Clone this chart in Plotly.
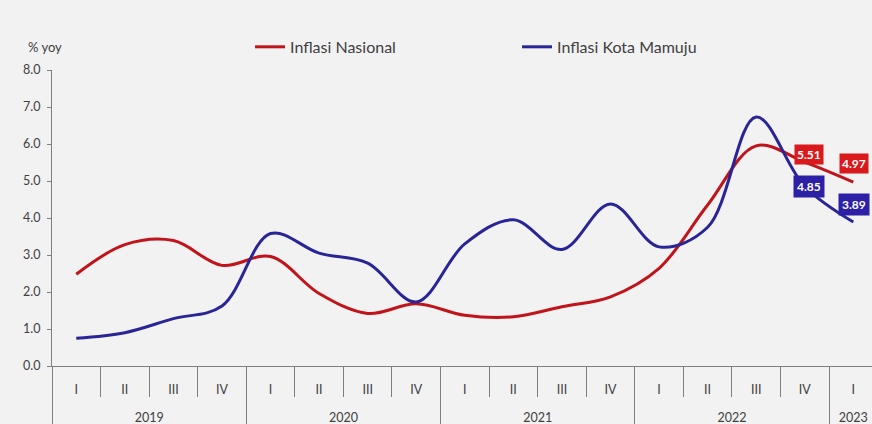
import plotly.graph_objects as go

years = ["2019"] * 4 + ["2020"] * 4 + ["2021"] * 4 + ["2022"] * 4 + ["2023"]
quarters = ["I", "II", "III", "IV"] * 4 + ["I"]
nasional = [2.48, 3.28, 3.39, 2.72, 2.96, 1.96, 1.42, 1.68, 1.37, 1.33, 1.60, 1.87,
            2.64, 4.35, 5.95, 5.51, 4.97]
mamuju = [0.75, 0.90, 1.28, 1.62, 3.58, 3.05, 2.78, 1.73, 3.30, 3.95, 3.15, 4.38,
          3.22, 3.75, 6.73, 4.85, 3.89]
y_ticks = [0, 1, 2, 3, 4, 5, 6, 7, 8]
label_idx = [15, 16]

# category positions derived from the data arrays
xpos = list(range(len(quarters)))
q_bounds = [i - 0.5 for i in range(len(quarters) + 1)]
year_names = []
year_centers = []
year_bounds = [-0.5]
for i, y in enumerate(years):
    if not year_names or year_names[-1] != y:
        year_names.append(y)
        idx = [j for j, yy in enumerate(years) if yy == y]
        year_centers.append(sum(idx) / len(idx))
        year_bounds.append(idx[-1] + 0.5)

RED = "#C0141A"
BLUE = "#2A2596"
RED_BOX = "#D9191C"
BLUE_BOX = "#2B20A6"
FONT = "Lato"
TXT = "#404040"
AX = "#7F7F7F"
XR = [-0.5, 16.385]

fig = go.Figure()
fig.add_trace(go.Scatter(x=xpos, y=nasional, name="Inflasi Nasional",
                         mode="lines", line=dict(color=RED, width=3, shape="spline", smoothing=1)))
fig.add_trace(go.Scatter(x=xpos, y=mamuju, name="Inflasi Kota Mamuju",
                         mode="lines", line=dict(color=BLUE, width=3, shape="spline", smoothing=1)))
# invisible companion trace so the year axis is drawn
fig.add_trace(go.Scatter(x=xpos, y=nasional, xaxis="x2", mode="lines", line=dict(width=0),
                         opacity=0, showlegend=False, hoverinfo="skip"))

shifts_n = [(4, 8), (1, 19)]
shifts_m = [(4, 0), (1, 18)]
for k, i in enumerate(label_idx):
    fig.add_annotation(x=xpos[i], y=nasional[i], xref="x", yref="y", text=f"<b>{nasional[i]:.2f}</b>",
                       showarrow=False, bgcolor=RED_BOX, font=dict(color="white", size=12, family=FONT),
                       xshift=shifts_n[k][0], yshift=shifts_n[k][1], borderpad=2)
    fig.add_annotation(x=xpos[i], y=mamuju[i], xref="x", yref="y", text=f"<b>{mamuju[i]:.2f}</b>",
                       showarrow=False, bgcolor=BLUE_BOX, font=dict(color="white", size=12, family=FONT),
                       xshift=shifts_m[k][0], yshift=shifts_m[k][1], borderpad=3)

fig.add_annotation(x=-0.0317, y=1.078, xref="paper", yref="paper", text="% yoy", showarrow=False,
                   xanchor="left", yanchor="middle", font=dict(size=13, color=TXT, family=FONT))

fig.update_layout(
    width=872, height=424,
    margin=dict(l=52, r=0, t=70, b=58),
    paper_bgcolor="#F2F2F2", plot_bgcolor="#F2F2F2",
    font=dict(family=FONT, size=12, color=TXT),
    showlegend=True,
    hovermode=False,
    legend=dict(orientation="h", x=0.2415, y=1.078, xanchor="left", yanchor="middle",
                entrywidth=222, entrywidthmode="pixels", font=dict(size=16, color=TXT),
                bgcolor="rgba(0,0,0,0)"),
    xaxis=dict(range=XR, showline=True, linecolor=AX, linewidth=1,
               tickmode="array", tickvals=xpos, ticktext=quarters, ticks="",
               ticklabelstandoff=12,
               minor=dict(tickmode="array", tickvals=q_bounds, ticks="outside", ticklen=30,
                          tickcolor=AX, tickwidth=1, showgrid=False),
               showgrid=False, zeroline=False, tickfont=dict(size=12.5, color=TXT)),
    xaxis2=dict(range=XR, overlaying="x", anchor="free", position=0, side="bottom",
                matches="x", showline=False,
                tickmode="array", tickvals=year_centers, ticktext=year_names, ticks="",
                ticklabelstandoff=42,
                minor=dict(tickmode="array", tickvals=year_bounds, ticks="outside", ticklen=60,
                           tickcolor=AX, tickwidth=1, showgrid=False),
                showgrid=False, zeroline=False, tickfont=dict(size=12.5, color=TXT)),
    yaxis=dict(range=[0, 8], tickvals=y_ticks, tickformat=".1f", showline=True, linecolor=AX,
               linewidth=1, ticks="outside", ticklen=4, tickcolor=AX, showgrid=False,
               zeroline=False, ticklabelstandoff=4, tickfont=dict(size=12.5, color=TXT)),
)

fig.write_html("out.html", config={"displayModeBar": False},
               post_script="document.body.style.margin='0';document.body.style.overflow='hidden';")
